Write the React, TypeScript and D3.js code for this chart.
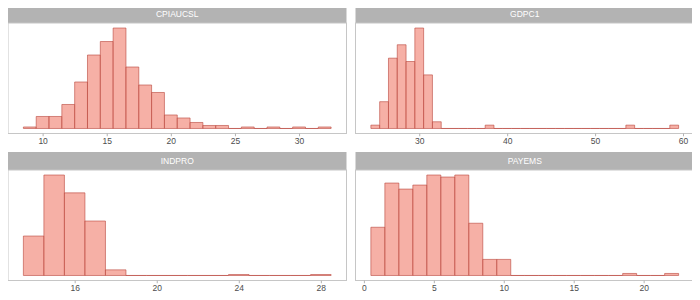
import React, { useEffect, useRef } from 'react';
import * as d3 from 'd3';

// histogram counts, one bin per unit, starting at the given bin centre
const cpiStart = 9;
const cpiCounts = [1, 8, 8, 16, 31, 49, 58, 67, 41, 29, 24, 9, 7, 4, 2, 2, 0, 1, 0, 1, 0, 1, 0, 1];
const cpiTicks = [10, 15, 20, 25, 30];

const gdpStart = 25;
const gdpCounts = [1, 8, 21, 25, 20, 30, 16, 2, 0, 0, 0, 0, 0, 1, 0, 0, 0, 0, 0, 0, 0, 0, 0, 0, 0, 0, 0, 0, 0, 1, 0, 0, 0, 0, 1];
const gdpTicks = [30, 40, 50, 60];

const indStart = 14;
const indCounts = [42, 107, 88, 58, 6, 0, 0, 0, 0, 0, 1, 0, 0, 0, 1];
const indTicks = [16, 20, 24, 28];

const payStart = 1;
const payCounts = [24, 46, 43, 45, 50, 49, 50, 26, 8, 8, 0, 0, 0, 0, 0, 0, 0, 0, 1, 0, 0, 1];
const payTicks = [0, 5, 10, 15, 20];

const panels = [
  { name: 'CPIAUCSL', start: cpiStart, counts: cpiCounts, ticks: cpiTicks },
  { name: 'GDPC1', start: gdpStart, counts: gdpCounts, ticks: gdpTicks },
  { name: 'INDPRO', start: indStart, counts: indCounts, ticks: indTicks },
  { name: 'PAYEMS', start: payStart, counts: payCounts, ticks: payTicks },
];

const App: React.FC = () => {
  const svgRef = useRef<SVGSVGElement>(null);

  useEffect(() => {
    if (!svgRef.current) return;
    const svg = d3.select(svgRef.current);
    svg.selectAll('*').remove();

    const colX = [8, 355.5];
    const rowY = [5, 152];
    const panelW = 338.5;
    const stripH = 18;
    const panelH = 110.5;
    const font = '"Liberation Sans", Arial, sans-serif';

    panels.forEach((p, i) => {
      const x0 = colX[i % 2];
      const y0 = rowY[Math.floor(i / 2)];
      const top = y0 + stripH;
      const bottom = top + panelH;

      const bins = p.counts.map((c, k) => ({ mid: p.start + k, count: c }));
      const lo = p.start - 0.5;
      const hi = p.start + p.counts.length - 0.5;
      const pad = (hi - lo) * 0.05;
      const x = d3.scaleLinear().domain([lo - pad, hi + pad]).range([x0, x0 + panelW]);
      const maxC = d3.max(p.counts) as number;
      const y = d3.scaleLinear().domain([-maxC * 0.05, maxC * 1.05]).range([bottom, top]);

      const g = svg.append('g');

      // strip
      g.append('rect')
        .attr('x', x0).attr('y', y0)
        .attr('width', panelW).attr('height', stripH)
        .attr('fill', '#b3b3b3');
      g.append('text')
        .attr('x', x0 + panelW / 2).attr('y', y0 + stripH / 2)
        .attr('dy', '0.35em')
        .attr('text-anchor', 'middle')
        .attr('fill', '#ffffff')
        .attr('font-family', font)
        .attr('font-size', 8.5)
        .text(p.name);

      // bars
      g.selectAll('path.bar')
        .data(bins)
        .enter()
        .append('path')
        .attr('class', 'bar')
        .attr('d', d => {
          const pth = d3.path();
          const bx = x(d.mid - 0.5);
          const bw = x(d.mid + 0.5) - bx;
          pth.rect(bx, y(d.count), bw, y(0) - y(d.count));
          return pth.toString();
        })
        .attr('fill', '#f28e80')
        .attr('fill-opacity', 0.7)
        .attr('stroke', '#b8453b')
        .attr('stroke-opacity', 0.75)
        .attr('stroke-width', 0.8);

      // panel border
      g.append('rect')
        .attr('x', x0).attr('y', top)
        .attr('width', panelW).attr('height', panelH)
        .attr('fill', 'none')
        .attr('stroke', '#c6c6c6')
        .attr('stroke-width', 1);

      // x axis
      const ax = g.append('g')
        .attr('transform', `translate(0,${bottom})`)
        .call(d3.axisBottom(x).tickValues(p.ticks).tickSize(2.75).tickPadding(2).tickFormat(d3.format('d')));
      ax.select('.domain').remove();
      ax.selectAll('line').attr('stroke', '#b3b3b3');
      ax.selectAll('text')
        .attr('fill', '#4d4d4d')
        .attr('font-family', font)
        .attr('font-size', 8.5);
    });
  }, []);

  return (
    <div style={{ position: 'relative', width: 700, height: 300 }}>
      <svg ref={svgRef} width={700} height={300}
        style={{ position: 'absolute', left: -8, top: -8, background: '#fff' }} />
    </div>
  );
};

export default App;
